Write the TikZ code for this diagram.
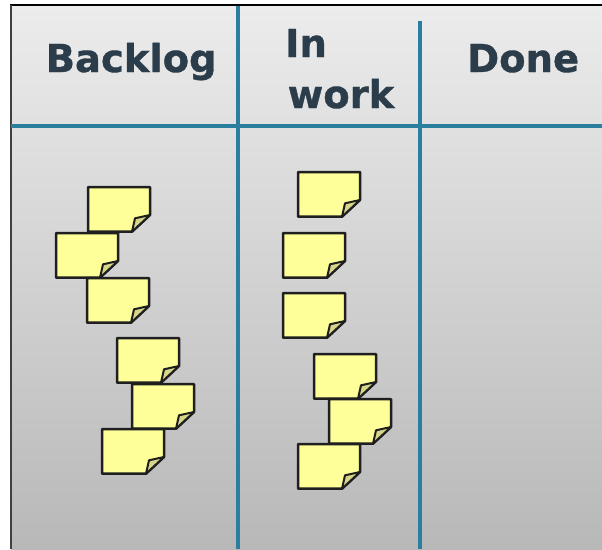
\documentclass[tikz,border=0pt]{standalone}
\usepackage{fontspec}
\newfontfamily\headfont{DejaVu Sans Bold}[FakeBold=0.9]
\definecolor{teal}{HTML}{2A7F9E}
\definecolor{headtext}{HTML}{2B3D4B}
\definecolor{notefill}{HTML}{FFFF99}
\definecolor{foldfill}{HTML}{D6D58A}
\definecolor{boardtop}{HTML}{ECECEC}
\definecolor{boardbot}{HTML}{B8B8B8}
\tikzset{
  divider/.style={draw=teal, line width=3.4pt},
  heading/.style={inner sep=0pt, anchor=base west, text=headtext,
                  font=\headfont\fontsize{38.5}{46}\selectfont},
  notebody/.style={fill=notefill, draw=black!88, line width=2.5pt, line join=round},
  notefold/.style={fill=foldfill, draw=black!88, line width=2pt, line join=round},
}
\usetikzlibrary{calc}
% sticky note with its top-left corner at (#2,#3), named #1
\newcommand{\stickynote}[3]{%
  \coordinate (#1) at (#2,#3);
  \path[notebody] (#1) -- ++(62,0) -- ++(0,28) -- ++(-18,16.7) -- ++(-44,0) -- cycle;
  \path[notefold] ($(#1)+(62,28)$) .. controls ($(#1)+(55,29)$) .. ($(#1)+(47,31.3)$)
        -- ($(#1)+(44,44.7)$) -- cycle;
}
\begin{document}
\begin{tikzpicture}[x=1pt,y=-1pt]
  \useasboundingbox (0,0) rectangle (602,549);
  % board background
  \shade[top color=boardtop, bottom color=boardbot] (11,5) rectangle (602,549);
  % frame
  \draw[black, line width=2.8pt] (10,5) -- (602,5);
  \draw[black!75, line width=2.5pt] (11,5) -- (11,549);
  % column dividers
  \coordinate (hl) at (11,126);
  \coordinate (hr) at (602,126);
  \coordinate (v1t) at (238,6);
  \coordinate (v1b) at (238,549);
  \coordinate (v2t) at (420,21);
  \coordinate (v2b) at (420,549);
  \draw[divider] (hl) -- (hr);
  \draw[divider] (v1t) -- (v1b);
  \draw[divider] (v2t) -- (v2b);
  % headings
  \node[heading] (backlog) at (45.5,72) {Backlog};
  \node[heading] (in) at (285,57) {In};
  \node[heading] (work) at (287.5,108) {work};
  \node[heading] (done) at (467,72) {Done};
  % Backlog notes
  \stickynote{b1}{88}{187}
  \stickynote{b2}{56}{233}
  \stickynote{b3}{87}{278}
  \stickynote{b4}{117}{338}
  \stickynote{b5}{132}{384}
  \stickynote{b6}{102}{429}
  % In work notes
  \stickynote{w1}{298}{172}
  \stickynote{w2}{283}{233}
  \stickynote{w3}{283}{293}
  \stickynote{w4}{314}{354}
  \stickynote{w5}{329}{399}
  \stickynote{w6}{298}{444}
\end{tikzpicture}
\end{document}
